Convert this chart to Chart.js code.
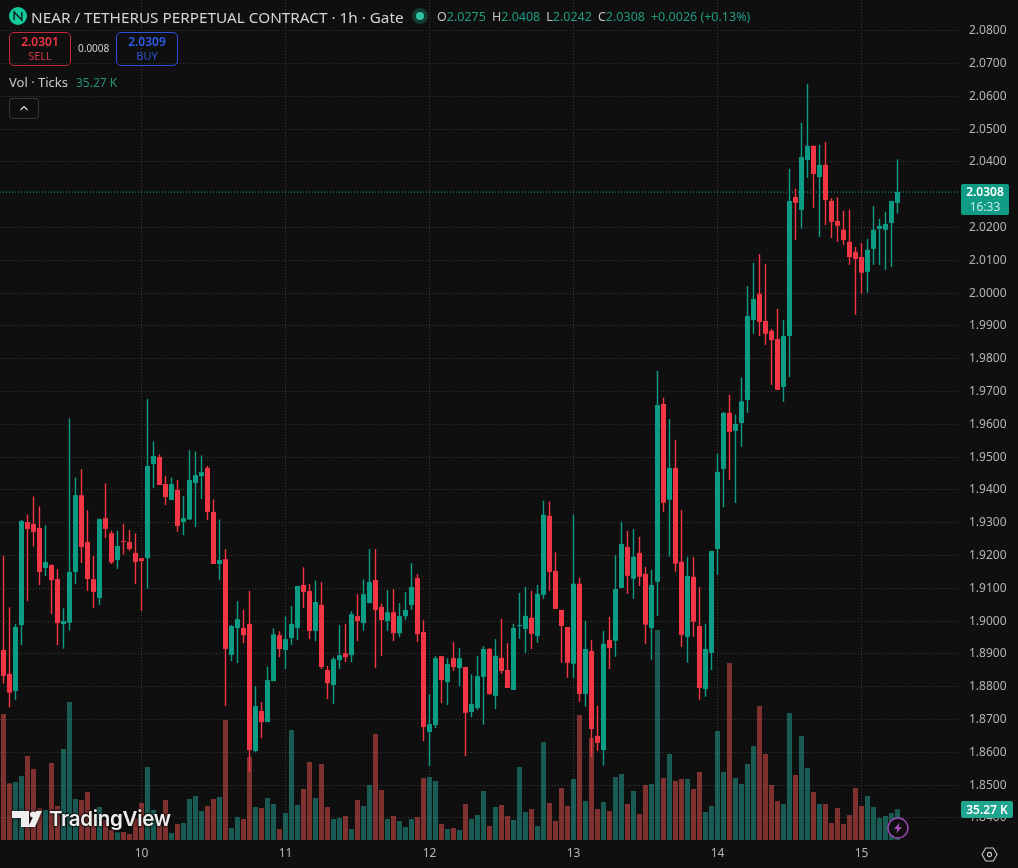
<!DOCTYPE html>
<html>
<head>
<meta charset="utf-8">
<title>NEAR / TETHERUS PERPETUAL CONTRACT</title>
<script src="https://cdn.jsdelivr.net/npm/chart.js@4/dist/chart.umd.min.js"></script>
<style>
    html, body { margin: 0; padding: 0; background: #0f0f0f; }
    body { width: 1018px; height: 868px; position: relative; overflow: hidden; font-family: "Noto Sans", sans-serif; }
    canvas { position: absolute; left: 0; top: 0; }
    .abs { position: absolute; white-space: nowrap; }
    .title { left: 31px; top: 7px; font-size: 15.3px; line-height: 20px; color: #d4d4d4; }
    .ohlc { left: 437px; top: 8px; font-size: 12.5px; line-height: 18px; color: #c4c4c4; }
    .ohlc span { color: #1f9a80; }
    .ohlc b { font-weight: normal; margin-right: 6px; }
    .trade { width: 60px; height: 32px; top: 32px; border-radius: 5px; border: 1px solid; text-align: center; }
    .trade div { font-size: 12px; line-height: 15px; padding-top: 1px; font-weight: 600; }
    .trade small { display: block; font-size: 11px; line-height: 13px; margin-top: 0; }
    .sell { left: 9px; border-color: #c02a38; color: #f23645; }
    .sell small { color: #cf3a45; }
    .buy { left: 116px; border-color: #2a50dc; color: #2f5fec; }
    .buy small { color: #2c55cc; }
    .spread { left: 78px; top: 41px; font-size: 10px; line-height: 14px; color: #d0d0d0; }
    .vol { left: 9px; top: 74px; font-size: 13px; line-height: 17px; color: #c8c8c8; }
    .vol span { color: #24917c; margin-left: 8px; font-size: 12px; }
    .collapse { left: 9px; top: 98px; width: 28px; height: 19px; border: 1px solid #363636; border-radius: 3px; }
    .tag { color: #fff; text-align: center; border-radius: 2px; font-size: 12px; font-weight: 600; }
    .tag-price { left: 961px; top: 184px; width: 48px; height: 31px; background: #0e9c85; line-height: 15px; }
    .tag-price small { display: block; font-size: 12px; font-weight: normal; color: #c8ebe4; }
    .tag-vol { left: 961px; top: 801px; width: 52px; height: 17px; background: #20a58e; line-height: 17px; }
    .brand { left: 49px; top: 805px; font-family: Inter, sans-serif; font-size: 20.5px; line-height: 28px; font-weight: 600; letter-spacing: -0.3px; color: #eeeeee;
             text-shadow: 0 0 3px #0f0f0f, 0 0 3px #0f0f0f, 0 0 2px #0f0f0f; }
</style>
</head>
<body>
<canvas id="chart" width="1018" height="868"></canvas>

<svg class="abs" style="left:9px;top:7px" width="18" height="18" viewBox="0 0 18 18">
    <circle cx="9" cy="9" r="9" fill="#14c99b"/>
    <path d="M5.2 13V5l7.6 8V5" fill="none" stroke="#0b2a22" stroke-width="1.6"/>
</svg>
<div class="abs title">NEAR / TETHERUS PERPETUAL CONTRACT · 1h · Gate</div>
<svg class="abs" style="left:411px;top:7px" width="18" height="18" viewBox="0 0 18 18">
    <circle cx="9" cy="9" r="8" fill="#123c33"/>
    <circle cx="9" cy="9" r="4" fill="#2fc3a4"/>
</svg>
<div class="abs ohlc"><b>O<span id="valO"></span></b><b>H<span id="valH"></span></b><b>L<span id="valL"></span></b><b>C<span id="valC"></span></b><span id="valChange"></span></div>

<div class="abs trade sell"><div>2.0301</div><small>SELL</small></div>
<div class="abs spread">0.0008</div>
<div class="abs trade buy"><div>2.0309</div><small>BUY</small></div>
<div class="abs vol">Vol · Ticks<span id="valVol"></span></div>
<div class="abs collapse">
    <svg width="28" height="19" viewBox="0 0 28 19"><path d="M10.5 11l3.5-3.5 3.5 3.5" fill="none" stroke="#d8d8d8" stroke-width="1.2"/></svg>
</div>

<div class="abs tag tag-price"><span id="tagPrice"></span><small>16:33</small></div>
<div class="abs tag tag-vol" id="tagVol"></div>

<!-- Watermark -->
<svg class="abs" style="left:9px;top:807px;filter:drop-shadow(0 0 2px #0f0f0f)" width="36" height="23" viewBox="0 0 36 23">
    <path d="M3 4h17v16h-8v-9H3z" fill="#eeeeee"/>
    <circle cx="24" cy="7.5" r="3" fill="#eeeeee"/>
    <path d="M27 4h6l-7 16h-7z" fill="#eeeeee"/>
</svg>
<div class="abs brand">TradingView</div>

<!-- Alert badge -->
<svg class="abs" style="left:886px;top:816px" width="24" height="24" viewBox="0 0 24 24">
    <circle cx="12" cy="12" r="10" fill="#0f0f0f" stroke="#9a47b2" stroke-width="1.5"/>
    <path d="M13.5 6.5L8 13h3.4l-1 4.5L16 11h-3.5z" fill="#a64dc0"/>
</svg>
<!-- Settings button -->
<svg class="abs" style="left:981px;top:846px" width="17" height="17" viewBox="0 0 17 17">
    <path d="M4.7 2h7.6l3.7 6.5-3.7 6.5H4.7L1 8.5z" fill="none" stroke="#c8c8c8" stroke-width="1.1"/>
    <circle cx="8.5" cy="8.5" r="2.1" fill="none" stroke="#c8c8c8" stroke-width="1.1"/>
</svg>

<script>
// Hourly candles
const opens = [
    1.8912, 1.8839, 1.8787, 1.8988, 1.9302, 1.9296, 1.9284, 1.9162, 1.9171, 1.9128,
    1.8991, 1.8995, 1.9150, 1.9384, 1.9241, 1.9128, 1.9070, 1.9314, 1.9268, 1.9186,
    1.9243, 1.9241, 1.9208, 1.9192, 1.9192, 1.9479, 1.9500, 1.9418, 1.9369, 1.9400,
    1.9302, 1.9310, 1.9421, 1.9442, 1.9467, 1.9333, 1.9174, 1.9189, 1.8897, 1.8979,
    1.8979, 1.8991, 1.8604, 1.8726, 1.8692, 1.8817, 1.8957, 1.8912, 1.8948, 1.8979,
    1.9110, 1.9092, 1.8970, 1.9049, 1.8851, 1.8805, 1.8881, 1.8902, 1.8896, 1.9015,
    1.8994, 1.9055, 1.9125, 1.9043, 1.9000, 1.9027, 1.8963, 1.9015, 1.9049, 1.9131,
    1.8967, 1.8662, 1.8683, 1.8893, 1.8814, 1.8887, 1.8857, 1.8860, 1.8723, 1.8735,
    1.8830, 1.8915, 1.8772, 1.8888, 1.8851, 1.8790, 1.8985, 1.8976, 1.9010, 1.8955,
    1.9080, 1.9321, 1.9153, 1.9034, 1.8982, 1.8870, 1.9114, 1.8778, 1.8909, 1.8650,
    1.8607, 1.8943, 1.8940, 1.9101, 1.9226, 1.9129, 1.9208, 1.9144, 1.8979, 1.9120,
    1.9662, 1.9370, 1.9467, 1.9181, 1.8952, 1.9135, 1.8985, 1.8793, 1.8903, 1.9220,
    1.9464, 1.9635, 1.9580, 1.9604, 1.9674, 1.9918, 1.9998, 1.9915, 1.9885, 1.9860,
    1.9714, 1.9869, 2.0293, 2.0254, 2.0406, 2.0449, 2.0354, 2.0391, 2.0281, 2.0220,
    2.0193, 2.0156, 2.0126, 2.0110, 2.0065, 2.0135, 2.0196, 2.0193, 2.0214, 2.0275
];
const highs = [
    1.9199, 1.9042, 1.8991, 1.9308, 1.9325, 1.9380, 1.9350, 1.9292, 1.9173, 1.9158,
    1.9039, 1.9618, 1.9438, 1.9463, 1.9338, 1.9198, 1.9313, 1.9420, 1.9276, 1.9275,
    1.9296, 1.9278, 1.9267, 1.9192, 1.9677, 1.9548, 1.9508, 1.9442, 1.9438, 1.9430,
    1.9381, 1.9521, 1.9517, 1.9505, 1.9473, 1.9371, 1.9310, 1.9219, 1.8988, 1.9061,
    1.9034, 1.9092, 1.8802, 1.8753, 1.8861, 1.8978, 1.8969, 1.9014, 1.9046, 1.9107,
    1.9164, 1.9113, 1.9124, 1.9119, 1.8863, 1.8890, 1.8988, 1.8991, 1.9030, 1.9082,
    1.9127, 1.9220, 1.9220, 1.9054, 1.9095, 1.9097, 1.9055, 1.9088, 1.9177, 1.9143,
    1.9003, 1.8777, 1.8893, 1.8893, 1.8887, 1.8936, 1.8918, 1.8860, 1.8838, 1.8893,
    1.8924, 1.8918, 1.8945, 1.9007, 1.8933, 1.8992, 1.9086, 1.9104, 1.9092, 1.9110,
    1.9367, 1.9364, 1.9210, 1.9034, 1.8982, 1.9324, 1.9132, 1.9001, 1.8943, 1.8742,
    1.8970, 1.9013, 1.9201, 1.9303, 1.9275, 1.9281, 1.9257, 1.9165, 1.9156, 1.9763,
    1.9681, 1.9616, 1.9553, 1.9339, 1.9196, 1.9196, 1.9104, 1.8992, 1.9214, 1.9510,
    1.9637, 1.9690, 1.9629, 1.9743, 2.0022, 2.0092, 2.0119, 2.0089, 1.9891, 1.9952,
    1.9918, 2.0379, 2.0318, 2.0519, 2.0638, 2.0449, 2.0452, 2.0461, 2.0290, 2.0293,
    2.0251, 2.0254, 2.0141, 2.0153, 2.0165, 2.0266, 2.0226, 2.0248, 2.0281, 2.0408
];
const lows = [
    1.8810, 1.8737, 1.8760, 1.8927, 1.9061, 1.9227, 1.9110, 1.9137, 1.9022, 1.8927,
    1.8916, 1.8971, 1.9113, 1.9177, 1.9092, 1.9040, 1.9049, 1.9253, 1.9174, 1.9159,
    1.9203, 1.9214, 1.9113, 1.9031, 1.9098, 1.9406, 1.9415, 1.9354, 1.9369, 1.9272,
    1.9262, 1.9308, 1.9287, 1.9372, 1.9308, 1.9174, 1.9125, 1.8741, 1.8878, 1.8872,
    1.8933, 1.8540, 1.8601, 1.8643, 1.8692, 1.8817, 1.8890, 1.8854, 1.8927, 1.8942,
    1.9040, 1.8945, 1.8939, 1.8854, 1.8762, 1.8747, 1.8854, 1.8875, 1.8875, 1.8939,
    1.8970, 1.9054, 1.8857, 1.8893, 1.8970, 1.8939, 1.8951, 1.9003, 1.9034, 1.8936,
    1.8634, 1.8558, 1.8674, 1.8750, 1.8744, 1.8848, 1.8802, 1.8588, 1.8707, 1.8729,
    1.8684, 1.8775, 1.8732, 1.8839, 1.8796, 1.8790, 1.8946, 1.8903, 1.8915, 1.8934,
    1.9068, 1.9092, 1.9037, 1.8873, 1.8827, 1.8827, 1.8754, 1.8739, 1.8586, 1.8604,
    1.8559, 1.8854, 1.8891, 1.9101, 1.9083, 1.9068, 1.9107, 1.8931, 1.8882, 1.9016,
    1.9333, 1.9196, 1.9150, 1.8921, 1.8873, 1.8952, 1.8760, 1.8769, 1.8851, 1.9141,
    1.9347, 1.9430, 1.9360, 1.9531, 1.9635, 1.9876, 1.9869, 1.9842, 1.9720, 1.9705,
    1.9668, 1.9744, 2.0162, 2.0196, 2.0351, 2.0260, 2.0171, 2.0208, 2.0168, 2.0156,
    2.0147, 2.0086, 1.9934, 1.9998, 2.0001, 2.0086, 2.0086, 2.0071, 2.0080, 2.0242
];
const closes = [
    1.8833, 1.8782, 1.8982, 1.9305, 1.9281, 1.9272, 1.9150, 1.9180, 1.9125, 1.8994,
    1.9000, 1.9150, 1.9384, 1.9226, 1.9128, 1.9089, 1.9311, 1.9281, 1.9179, 1.9229,
    1.9241, 1.9220, 1.9180, 1.9183, 1.9473, 1.9503, 1.9415, 1.9378, 1.9418, 1.9290,
    1.9314, 1.9430, 1.9445, 1.9454, 1.9333, 1.9174, 1.9186, 1.8915, 1.8985, 1.9006,
    1.8957, 1.8607, 1.8741, 1.8692, 1.8820, 1.8960, 1.8915, 1.8945, 1.8991, 1.9107,
    1.9088, 1.8970, 1.9058, 1.8860, 1.8811, 1.8884, 1.8896, 1.8890, 1.9021, 1.9000,
    1.9082, 1.9119, 1.9034, 1.9003, 1.9027, 1.8963, 1.9015, 1.9034, 1.9104, 1.8960,
    1.8677, 1.8686, 1.8887, 1.8820, 1.8869, 1.8860, 1.8887, 1.8720, 1.8747, 1.8832,
    1.8915, 1.8778, 1.8894, 1.8848, 1.8796, 1.8979, 1.8987, 1.9016, 1.8961, 1.9083,
    1.9324, 1.9150, 1.9037, 1.8985, 1.8873, 1.9114, 1.8778, 1.8915, 1.8671, 1.8629,
    1.8931, 1.8918, 1.9098, 1.9235, 1.9138, 1.9196, 1.9135, 1.8989, 1.9110, 1.9659,
    1.9361, 1.9467, 1.9175, 1.8958, 1.9138, 1.8998, 1.8796, 1.8915, 1.9214, 1.9455,
    1.9635, 1.9577, 1.9601, 1.9670, 1.9930, 1.9982, 1.9912, 1.9876, 1.9857, 1.9705,
    1.9869, 2.0281, 2.0275, 2.0415, 2.0449, 2.0363, 2.0391, 2.0284, 2.0217, 2.0205,
    2.0162, 2.0110, 2.0104, 2.0062, 2.0132, 2.0193, 2.0205, 2.0211, 2.0281, 2.0308
];
// Tick volume in thousands
const volumes = [
    144.8, 65.1, 66.7, 73.6, 96.6, 81.6, 36.4, 34.5, 88.5, 39.1,
    104.6, 158.6, 47.1, 46.0, 55.2, 28.7, 37.9, 23.0, 11.5, 8.8,
    9.2, 6.9, 24.9, 42.5, 83.9, 34.5, 17.2, 46.0, 8.0, 18.4,
    19.5, 47.1, 50.6, 33.3, 39.1, 47.1, 49.4, 137.9, 13.8, 26.4,
    24.1, 95.4, 37.9, 36.8, 48.3, 41.4, 12.6, 31.0, 126.4, 40.2,
    58.6, 89.7, 48.3, 87.4, 37.9, 24.1, 25.3, 27.6, 12.6, 46.0,
    39.1, 63.2, 121.8, 57.5, 24.1, 27.6, 21.8, 14.9, 24.1, 26.4,
    71.3, 72.4, 67.8, 18.4, 12.6, 13.8, 11.5, 41.4, 24.1, 28.7,
    56.3, 16.1, 37.9, 40.2, 27.6, 23.0, 83.9, 32.2, 35.6, 16.1,
    112.6, 42.5, 21.8, 59.8, 39.1, 70.1, 143.7, 44.8, 117.2, 35.6,
    43.7, 33.3, 72.4, 75.9, 41.4, 56.3, 29.9, 63.2, 64.4, 241.4,
    71.3, 98.9, 67.8, 70.1, 70.1, 58.6, 78.2, 32.2, 39.1, 125.3,
    78.2, 203.4, 71.3, 64.4, 87.4, 108.0, 154.0, 98.9, 63.2, 44.8,
    41.4, 146.0, 74.7, 119.5, 82.8, 55.2, 41.4, 41.4, 19.5, 36.8,
    18.4, 28.7, 59.8, 39.1, 50.6, 37.9, 25.3, 27.6, 31.0, 35.27
];

// Axis ticks: first candle of each day and the price grid
const dayIndexes = [23, 47, 71, 95, 119, 143];
const dayLabels = ['10', '11', '12', '13', '14', '15'];
const priceTicks = [
    2.08, 2.07, 2.06, 2.05, 2.04, 2.02, 2.01, 2.00, 1.99, 1.98, 1.97, 1.96, 1.95,
    1.94, 1.93, 1.92, 1.91, 1.90, 1.89, 1.88, 1.87, 1.86, 1.85, 1.84
];

const UP = '#0b9c85';
const DOWN = '#f23645';
const UP_VOL = 'rgba(38, 166, 154, 0.5)';
const DOWN_VOL = 'rgba(239, 83, 80, 0.5)';
const GRID = '#3a3a3a';
const AXIS_TEXT = '#b4b4b4';

const last = closes.length - 1;
const isUp = closes.map((c, i) => c >= opens[i]);
const fmt = v => v.toFixed(4);

// Legend row and price tags read from the last candle
document.getElementById('valO').textContent = fmt(opens[last]);
document.getElementById('valH').textContent = fmt(highs[last]);
document.getElementById('valL').textContent = fmt(lows[last]);
document.getElementById('valC').textContent = fmt(closes[last]);
document.getElementById('valChange').textContent = '+0.0026 (+0.13%)';
document.getElementById('valVol').textContent = volumes[last] + ' K';
document.getElementById('tagPrice').textContent = fmt(closes[last]);
document.getElementById('tagVol').textContent = volumes[last] + ' K';

// Visible range of the time and price scales
const X_MIN = -0.58333;
const X_MAX = 159.08333;
const PRICE_MIN = 1.83326;
const PRICE_MAX = 2.08936;
const VOL_MAX = 965.5;

new Chart(document.getElementById('chart').getContext('2d'), {
    type: 'bar',
    data: {
        datasets: [
            {
                // Last price line
                type: 'line',
                data: [{ x: X_MIN, y: closes[last] }, { x: X_MAX, y: closes[last] }],
                borderColor: '#12b096',
                borderWidth: 1,
                borderDash: [1, 2],
                pointRadius: 0,
                yAxisID: 'y',
                order: 4
            },
            {
                // Candle bodies
                data: opens.map((o, i) => ({ x: i, y: [o, closes[i]] })),
                backgroundColor: isUp.map(u => u ? UP : DOWN),
                barThickness: 5,
                minBarLength: 1,
                grouped: false,
                inflateAmount: 0,
                yAxisID: 'y',
                order: 1
            },
            {
                // Wicks
                data: lows.map((l, i) => ({ x: i, y: [l, highs[i]] })),
                backgroundColor: isUp.map(u => u ? UP : DOWN),
                barThickness: 1.4,
                grouped: false,
                inflateAmount: 0,
                yAxisID: 'y',
                order: 2
            },
            {
                // Volume pane shares the bottom of the chart
                data: volumes.map((v, i) => ({ x: i, y: v })),
                backgroundColor: isUp.map(u => u ? UP_VOL : DOWN_VOL),
                barThickness: 5,
                grouped: false,
                inflateAmount: 0,
                yAxisID: 'yVol',
                order: 3
            }
        ]
    },
    options: {
        responsive: false,
        animation: false,
        layout: { padding: 0 },
        plugins: {
            legend: { display: false },
            tooltip: { enabled: false }
        },
        scales: {
            x: {
                type: 'linear',
                min: X_MIN,
                max: X_MAX,
                offset: false,
                grid: { color: GRID, offset: false, drawTicks: false },
                border: { display: false, dash: [1, 2] },
                afterBuildTicks: scale => {
                    scale.ticks = dayIndexes.map(v => ({ value: v }));
                },
                afterFit: scale => {
                    scale.height = 28;
                    scale.paddingLeft = 0;
                    scale.paddingRight = 0;
                },
                ticks: {
                    color: AXIS_TEXT,
                    font: { family: '"Noto Sans", sans-serif', size: 12 },
                    maxRotation: 0,
                    autoSkip: false,
                    padding: 6,
                    callback: value => dayLabels[dayIndexes.indexOf(value)]
                }
            },
            y: {
                position: 'right',
                min: PRICE_MIN,
                max: PRICE_MAX,
                grid: { color: GRID, drawTicks: false },
                border: { display: false, dash: [1, 2] },
                afterBuildTicks: scale => {
                    scale.ticks = priceTicks.map(v => ({ value: v }));
                },
                afterFit: scale => {
                    scale.width = 60;
                    scale.paddingTop = 0;
                    scale.paddingBottom = 0;
                },
                ticks: {
                    color: AXIS_TEXT,
                    font: { family: '"Noto Sans", sans-serif', size: 12 },
                    padding: 11,
                    autoSkip: false,
                    callback: value => value.toFixed(4)
                }
            },
            yVol: {
                display: false,
                min: 0,
                max: VOL_MAX
            }
        }
    }
});
</script>
</body>
</html>
